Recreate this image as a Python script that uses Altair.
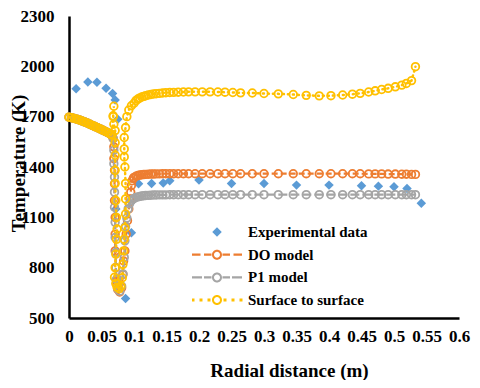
import altair as alt
import pandas as pd

names = ["Experimental data", "DO model", "P1 model", "Surface to surface"]
colors = ["#5B9BD5", "#ED7D31", "#A5A5A5", "#FFC000"]

# Experimental data (blue diamonds)
exp_x = [0.011, 0.029, 0.043, 0.057, 0.067, 0.071, 0.075, 0.072, 0.087, 0.096,
         0.107, 0.127, 0.145, 0.155, 0.200, 0.250, 0.300, 0.350, 0.400, 0.450,
         0.476, 0.500, 0.520, 0.542]
exp_t = [1866, 1906, 1905, 1870, 1838, 1800, 1684, 1150, 616, 1008,
         1300, 1302, 1305, 1318, 1322, 1302, 1302, 1292, 1292, 1288,
         1286, 1282, 1272, 1184]

# shared mesh, left part (the three models overlap here)
x_left = [0.000, 0.004, 0.008, 0.012, 0.016, 0.020, 0.024, 0.028, 0.032, 0.036,
          0.040, 0.044, 0.048, 0.052, 0.056, 0.060, 0.064, 0.066]
t_left = [1697, 1694, 1690, 1685, 1680, 1674, 1668, 1662, 1655, 1648,
          1641, 1634, 1627, 1620, 1612, 1604, 1596, 1590]

# dip near the wall, per model
do_dip_x = [0.068, 0.069, 0.069, 0.070, 0.070, 0.070, 0.071, 0.071, 0.071, 0.072,
            0.073, 0.075, 0.078, 0.081, 0.083, 0.084, 0.086, 0.088, 0.090, 0.092,
            0.094, 0.095, 0.096, 0.097, 0.099]
do_dip_t = [1570, 1520, 1450, 1380, 1300, 1200, 1100, 1000, 900, 800,
            720, 670, 655, 680, 760, 840, 900, 1000, 1080, 1150,
            1210, 1250, 1290, 1318, 1333]

p1_dip_x = [0.068, 0.069, 0.069, 0.070, 0.070, 0.070, 0.071, 0.071, 0.072, 0.072,
            0.073, 0.075, 0.078, 0.081, 0.083, 0.085, 0.086, 0.087, 0.089, 0.091,
            0.093, 0.096, 0.098]
p1_dip_t = [1570, 1500, 1420, 1340, 1250, 1160, 1070, 980, 890, 800,
            730, 675, 660, 690, 763, 861, 960, 1047, 1096, 1150,
            1180, 1200, 1208]

s2s_dip_x = [0.068, 0.069, 0.068, 0.069, 0.071, 0.071, 0.071, 0.071, 0.071, 0.072,
             0.073, 0.074, 0.073, 0.072, 0.071, 0.070, 0.072, 0.074, 0.077, 0.080,
             0.082, 0.083, 0.084, 0.085, 0.086, 0.087, 0.087, 0.087, 0.086, 0.085,
             0.085, 0.085, 0.087, 0.089, 0.092, 0.096]
s2s_dip_t = [1700, 1762, 1705, 1655, 1617, 1545, 1470, 1380, 1302, 1200,
             1100, 1030, 969, 880, 800, 743, 705, 684, 675, 690,
             740, 820, 900, 970, 1037, 1120, 1210, 1302, 1400, 1460,
             1508, 1576, 1635, 1700, 1740, 1765]

# shared mesh, right part
x_plateau = [0.100, 0.103, 0.106, 0.109, 0.112, 0.115, 0.118, 0.122, 0.126, 0.130,
             0.134, 0.139, 0.144, 0.149, 0.155, 0.161, 0.168, 0.176, 0.184, 0.194,
             0.205, 0.217, 0.229, 0.240, 0.252, 0.264, 0.282, 0.300, 0.322, 0.345,
             0.365, 0.385, 0.403, 0.421, 0.436, 0.448, 0.461, 0.471, 0.481, 0.491,
             0.502, 0.512, 0.519, 0.527, 0.533]
do_plateau_t = [1338, 1345, 1349, 1352, 1354, 1355, 1356, 1357, 1358, 1358,
                1359, 1359, 1360, 1360, 1360, 1360, 1360, 1360, 1360, 1360,
                1360, 1360, 1360, 1360, 1360, 1360, 1360, 1360, 1360, 1360,
                1360, 1360, 1360, 1360, 1360, 1360, 1359, 1359, 1359, 1358,
                1358, 1357, 1357, 1356, 1356]
p1_plateau_t = [1212, 1218, 1222, 1225, 1227, 1229, 1230, 1231, 1232, 1233,
                1233, 1234, 1234, 1234, 1235, 1235, 1235, 1235, 1235, 1235,
                1235, 1235, 1235, 1235, 1235, 1235, 1235, 1235, 1235, 1235,
                1235, 1235, 1235, 1235, 1235, 1235, 1235, 1235, 1235, 1235,
                1235, 1235, 1235, 1235, 1235]
s2s_plateau_t = [1780, 1796, 1805, 1812, 1817, 1821, 1825, 1829, 1832, 1835,
                 1837, 1839, 1841, 1843, 1844, 1845, 1846, 1847, 1848, 1848,
                 1848, 1848, 1847, 1846, 1844, 1842, 1841, 1838, 1836, 1832,
                 1827, 1824, 1825, 1829, 1834, 1839, 1847, 1854, 1862, 1869,
                 1878, 1888, 1898, 1915, 1998]


def model_df(dip_x, dip_t, plateau_t):
    xs = x_left + dip_x + x_plateau
    ts = t_left + dip_t + plateau_t
    return pd.DataFrame({"x": xs, "t": ts, "i": list(range(len(xs)))})


do_df = model_df(do_dip_x, do_dip_t, do_plateau_t)
p1_df = model_df(p1_dip_x, p1_dip_t, p1_plateau_t)
s2s_df = model_df(s2s_dip_x, s2s_dip_t, s2s_plateau_t)
exp_df = pd.DataFrame({"x": exp_x, "t": exp_t})

FONT = "'Times New Roman', 'Liberation Serif', serif"
x_ticks = [0, 0.05, 0.1, 0.15, 0.2, 0.25, 0.3, 0.35, 0.4, 0.45, 0.5, 0.55, 0.6]
y_ticks = [500, 800, 1100, 1400, 1700, 2000, 2300]

X = alt.X("x:Q", scale=alt.Scale(domain=[0, 0.6], nice=False, zero=False),
          axis=alt.Axis(values=x_ticks, format="~g", grid=False, ticks=False, tickSize=0,
                        labelPadding=10, labelFlush=False, labelOverlap=False,
                        domainColor="black", domainWidth=2.5,
                        title="Radial distance (m)", titleX=220, titleY=52,
                        titleAlign="center", titleBaseline="middle"))
Y = alt.Y("t:Q", scale=alt.Scale(domain=[500, 2300], nice=False, zero=False),
          axis=alt.Axis(values=y_ticks, format="d", grid=False, ticks=False, tickSize=0,
                        labelPadding=15, labelFlush=False, labelOverlap=False,
                        domainColor="black", domainWidth=2.5,
                        title="Temperature (K)", titleX=-51, titleY=147, titleAngle=270,
                        titleAlign="center", titleBaseline="middle"))

exp_layer = alt.Chart(exp_df).mark_point(shape="diamond", filled=True, color=colors[0],
                                         size=90, opacity=1).encode(x=X, y=Y)


def model_layers(df, color, dash, width, cap="butt"):
    base = alt.Chart(df)
    line = base.mark_line(color=color, strokeDash=dash, strokeWidth=width,
                          strokeCap=cap).encode(x=X, y=Y, order="i:Q")
    pts = base.mark_point(shape="circle", filled=False, color=color, size=58,
                          strokeWidth=1.8, opacity=1).encode(x=X, y=Y)
    return [line, pts]


# legend symbol paths (units of the symbol box, -1..1)
def rect(x0, x1, h):
    return f"M{x0},{-h}H{x1}V{h}H{x0}Z"


ring = ("M0.2,0A0.2,0.2,0,1,1,-0.2,0A0.2,0.2,0,1,1,0.2,0Z"
        "M0.12,0A0.12,0.12,0,1,0,-0.12,0A0.12,0.12,0,1,0,0.12,0Z")
diamond_path = "M0,-0.19L0.19,0L0,0.19L-0.19,0Z"
do_path = rect(-1, -0.66, 0.045) + rect(-0.52, -0.22, 0.045) + rect(0.22, 0.52, 0.045) + rect(0.66, 1, 0.045) + ring
p1_path = rect(-1, -0.6, 0.045) + rect(-0.52, -0.22, 0.045) + rect(0.22, 0.52, 0.045) + rect(0.6, 1, 0.045) + ring
s2s_path = "".join(rect(c - 0.06, c + 0.06, 0.06) for c in [-0.96, -0.64, -0.32, 0.32, 0.64, 0.96]) + ring
paths = [diamond_path, do_path, p1_path, s2s_path]

leg = alt.Legend(title=None, orient="none", legendX=123, legendY=207, padding=0,
                 symbolSize=2500, symbolStrokeWidth=0, symbolOpacity=1,
                 labelFont=FONT, labelFontSize=15, labelFontWeight="bold",
                 labelColor="black", labelOffset=6, clipHeight=18, rowPadding=4.7)
legend_layer = alt.Chart(pd.DataFrame({"series": names})).mark_point(
    opacity=0, filled=True, strokeWidth=0, size=2500
).encode(
    shape=alt.Shape("series:N", scale=alt.Scale(domain=names, range=paths), legend=leg),
    fill=alt.Fill("series:N", scale=alt.Scale(domain=names, range=colors), legend=leg),
)

layers = [exp_layer]
layers += model_layers(do_df, colors[1], [6, 3], 2.2)
layers += model_layers(p1_df, colors[2], [9, 3], 2.2)
layers += model_layers(s2s_df, colors[3], [1, 4], 2.5, cap="round")
layers += [legend_layer]

chart = alt.layer(*layers).properties(
    width=390, height=302,
    autosize=alt.AutoSizeParams(type="none"),
    padding={"left": 61, "top": 8, "right": 13, "bottom": 62},
).configure_view(stroke=None).configure_axis(
    labelFont=FONT, labelFontSize=17, labelFontWeight="bold", labelColor="black",
    titleFont=FONT, titleFontSize=19, titleFontWeight="bold", titleColor="black",
)

chart.save("out.html", embed_options={"renderer": "svg", "actions": False})
